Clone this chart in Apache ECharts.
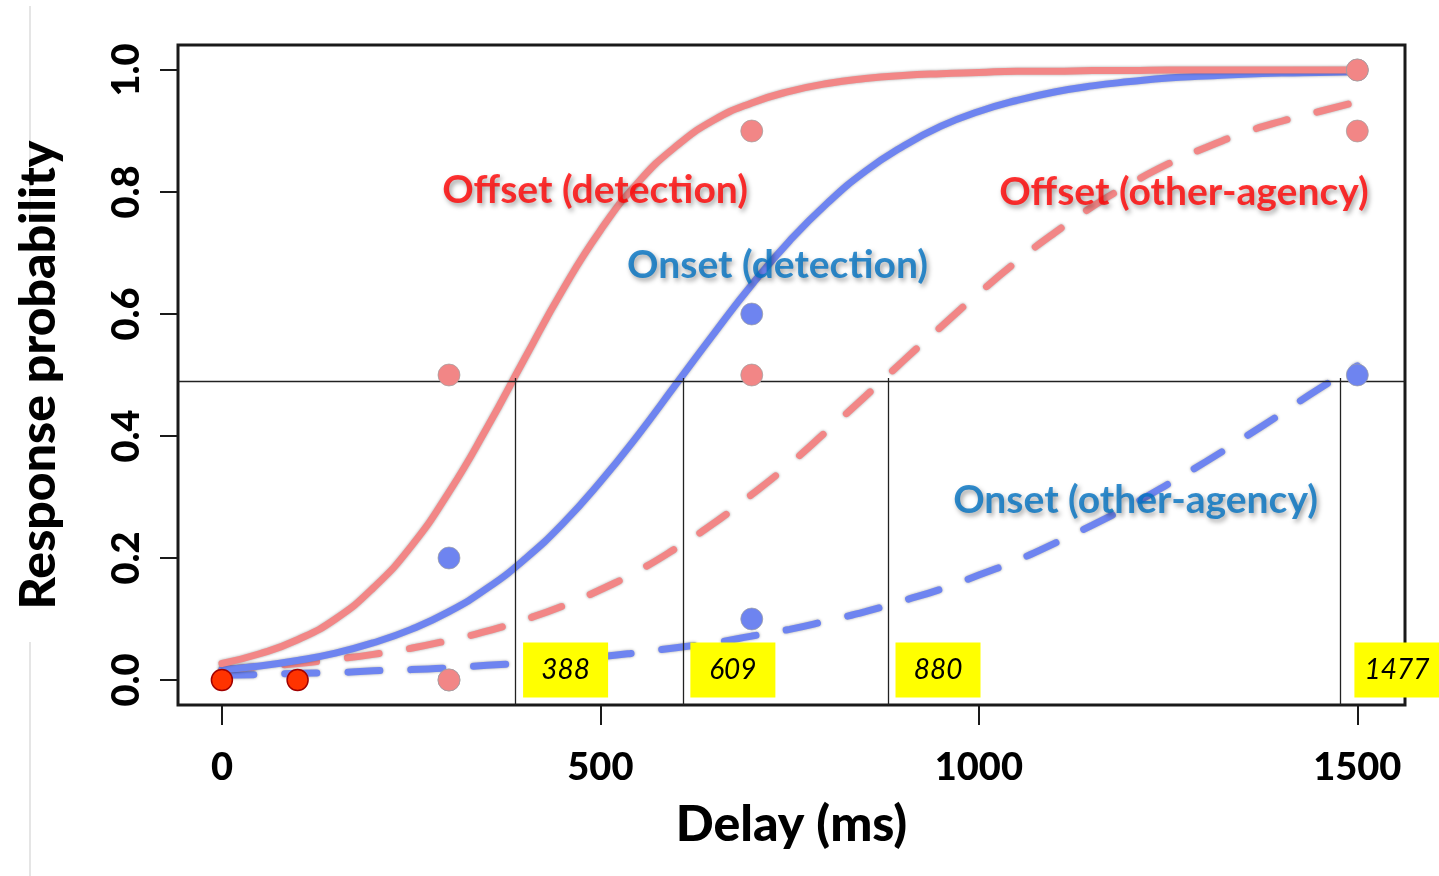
<!DOCTYPE html>
<html>
<head>
<meta charset="utf-8">
<title>Response probability vs delay</title>
<script src="https://cdn.jsdelivr.net/npm/echarts@6/dist/echarts.min.js"></script>
<style>
  html, body { margin: 0; padding: 0; background: #fff; }
  #chart { width: 1439px; height: 876px; }
</style>
</head>
<body>
<div id="chart"></div>
<script>
// Delays (ms) at which the fitted psychometric curves are sampled
const fitDelays = [0, 50, 100, 150, 200, 250, 300, 350, 400, 450, 500, 550, 600, 650, 700, 750,
  800, 850, 900, 950, 1000, 1050, 1100, 1150, 1200, 1250, 1300, 1350, 1400, 1450, 1500];

// Fitted response probability for each condition
const offsetDetectionFit = [0.027, 0.043, 0.066, 0.100, 0.151, 0.219, 0.308, 0.413, 0.527, 0.639, 0.737,
  0.816, 0.875, 0.918, 0.946, 0.965, 0.978, 0.986, 0.991, 0.994, 0.996, 0.998, 0.998, 0.999, 0.999,
  1.0, 1.0, 1.0, 1.0, 1.0, 1.0];
const onsetDetectionFit = [0.017, 0.023, 0.032, 0.044, 0.061, 0.083, 0.112, 0.150, 0.198, 0.256, 0.325,
  0.402, 0.485, 0.568, 0.648, 0.720, 0.782, 0.834, 0.875, 0.908, 0.932, 0.950, 0.964, 0.974, 0.981,
  0.987, 0.990, 0.993, 0.995, 0.996, 0.997];
const offsetOtherFit = [0.017, 0.022, 0.027, 0.034, 0.042, 0.052, 0.065, 0.080, 0.099, 0.121, 0.148,
  0.179, 0.216, 0.257, 0.304, 0.354, 0.409, 0.465, 0.523, 0.579, 0.634, 0.686, 0.733, 0.776, 0.813,
  0.846, 0.873, 0.897, 0.916, 0.932, 0.948];
const onsetOtherFit = [0.008, 0.009, 0.011, 0.012, 0.015, 0.017, 0.020, 0.024, 0.028, 0.033, 0.038,
  0.045, 0.053, 0.061, 0.072, 0.083, 0.097, 0.112, 0.130, 0.149, 0.172, 0.196, 0.224, 0.254, 0.286,
  0.321, 0.358, 0.397, 0.437, 0.478, 0.515];

// Observed proportions
const obsDelays = [300, 700, 1500];
const offsetDetectionObs = [0.5, 0.9, 1.0];
const onsetDetectionObs = [0.2, 0.6, 1.0];
const offsetOtherObs = [0.0, 0.5, 0.9];
const onsetOtherObs = [0.0, 0.1, 0.5];
// Short delays where every condition scored zero
const zeroDelays = [0, 100];
const zeroObs = [0, 0];

// 50% thresholds (ms) of the four fits
const thresholds = [388, 609, 880, 1477];
const halfLevel = 0.495;

// Axis ticks
const xTicks = [0, 500, 1000, 1500];
const yTicks = [0, 0.2, 0.4, 0.6, 0.8, 1.0];

// Curve captions: text, anchor delay, anchor probability
const captionText = ['Offset (detection)', 'Onset (detection)', 'Offset (other-agency)', 'Onset (other-agency)'];
const captionX = [493, 734, 1271, 1207];
const captionY = [0.803, 0.679, 0.800, 0.295];

const PINK = '#f28686';
const BLUE = '#6e84f0';
const RED_TXT = '#ff0000';
const BLUE_TXT = '#0070c0';
const FONT = "Lato, 'Open Sans', sans-serif";

const zip = (xs, ys) => xs.map((x, i) => [x, ys[i]]);

const glow = { shadowColor: 'rgba(0,0,0,0.35)', shadowBlur: 3 };

function fitSeries(name, values, color, dashed, z) {
  return {
    name, type: 'line', data: zip(fitDelays, values),
    showSymbol: false, smooth: true, z,
    lineStyle: Object.assign({ color, width: 7, type: dashed ? [32, 31] : 'solid', cap: 'round' }, glow),
    silent: true, animation: false
  };
}

function obsSeries(name, values, color, z) {
  return {
    name, type: 'scatter', data: zip(obsDelays, values), z,
    symbol: 'circle', symbolSize: 22,
    itemStyle: { color, opacity: 1, borderColor: 'rgba(160,160,160,0.7)', borderWidth: 1 },
    silent: true, animation: false
  };
}

const chart = echarts.init(document.getElementById('chart'));

chart.setOption({
  backgroundColor: '#ffffff',
  animation: false,
  grid: {
    left: 178, right: 34, top: 45, bottom: 171,
    show: true, borderColor: '#1a1a1a', borderWidth: 3, backgroundColor: 'transparent'
  },
  xAxis: {
    type: 'value', min: -58, max: 1563,
    splitLine: { show: false },
    axisLine: { show: false, onZero: false },
    axisTick: { show: true, customValues: xTicks, length: 20, lineStyle: { color: '#1a1a1a', width: 2 } },
    axisLabel: {
      customValues: xTicks, margin: 44, formatter: v => String(v),
      fontFamily: FONT, fontWeight: 900, fontSize: 38, color: '#000'
    },
    name: 'Delay (ms)', nameLocation: 'middle', nameGap: 95,
    nameTextStyle: { fontFamily: FONT, fontWeight: 900, fontSize: 50, color: '#000' }
  },
  yAxis: {
    type: 'value', min: -0.041, max: 1.041,
    splitLine: { show: false },
    axisLine: { show: false, onZero: false },
    axisTick: { show: true, customValues: yTicks, length: 18, lineStyle: { color: '#1a1a1a', width: 2 } },
    axisLabel: {
      customValues: yTicks, margin: 32, rotate: 90,
      formatter: v => v.toFixed(1),
      fontFamily: FONT, fontWeight: 900, fontSize: 38, color: '#000'
    },
    name: 'Response probability', nameLocation: 'middle', nameGap: 114, nameRotate: 90,
    nameTextStyle: { fontFamily: FONT, fontWeight: 900, fontSize: 50, color: '#000' }
  },
  graphic: [
    { type: 'line', shape: { x1: 30, y1: 6, x2: 30, y2: 214 }, style: { stroke: '#dcdcdc', lineWidth: 1.5 }, silent: true },
    { type: 'line', shape: { x1: 30, y1: 642, x2: 30, y2: 876 }, style: { stroke: '#dcdcdc', lineWidth: 1.5 }, silent: true }
  ],
  series: [
    // 50% guide line and threshold drop lines
    {
      name: 'threshold lines', type: 'scatter', z: 1, silent: true, data: [],
      markLine: {
        silent: true, symbol: ['none', 'none'], label: { show: false },
        lineStyle: { color: '#222', width: 1.3, type: 'solid' },
        data: [
          { yAxis: halfLevel },
          ...thresholds.map(t => [{ coord: [t, halfLevel] }, { coord: [t, -0.041] }])
        ]
      }
    },
    fitSeries('Onset (other-agency) fit', onsetOtherFit, BLUE, true, 2),
    fitSeries('Offset (other-agency) fit', offsetOtherFit, PINK, true, 2),
    fitSeries('Onset (detection) fit', onsetDetectionFit, BLUE, false, 3),
    fitSeries('Offset (detection) fit', offsetDetectionFit, PINK, false, 3),
    // threshold value tags
    {
      name: 'threshold tags', type: 'scatter', z: 4, clip: false, silent: true,
      data: thresholds.map((t, i) => ({
        value: [t, 0],
        symbolOffset: i === thresholds.length - 1 ? [57, -10] : [50, -10]
      })),
      symbol: 'rect', symbolSize: [85, 55],
      itemStyle: { color: '#ffff00', opacity: 1 },
      label: {
        show: true, position: 'inside', formatter: p => String(p.value[0]),
        fontFamily: FONT, fontStyle: 'italic', fontSize: 28, color: '#000'
      }
    },
    obsSeries('Onset (other-agency)', onsetOtherObs, BLUE, 5),
    obsSeries('Onset (detection)', onsetDetectionObs, BLUE, 5),
    obsSeries('Offset (other-agency)', offsetOtherObs, PINK, 6),
    obsSeries('Offset (detection)', offsetDetectionObs, PINK, 6),
    {
      name: 'all conditions', type: 'scatter', z: 7, silent: true,
      data: zip(zeroDelays, zeroObs), symbol: 'circle', symbolSize: 21,
      itemStyle: { color: '#ff3300', opacity: 1, borderColor: '#a00000', borderWidth: 1.5 }
    },
    // curve captions
    {
      name: 'captions', type: 'scatter', z: 8, silent: true, clip: false,
      symbolSize: 0,
      data: captionText.map((t, i) => ({
        value: [captionX[i], captionY[i]],
        label: { color: i % 2 === 0 ? RED_TXT : BLUE_TXT }
      })),
      label: {
        show: true, position: 'inside',
        formatter: p => captionText[p.dataIndex],
        fontFamily: FONT, fontWeight: 'bold', fontSize: 39,
        textShadowColor: 'rgba(0,0,0,0.45)', textShadowBlur: 5,
        textShadowOffsetX: 2, textShadowOffsetY: 3
      }
    }
  ]
});
</script>
</body>
</html>
